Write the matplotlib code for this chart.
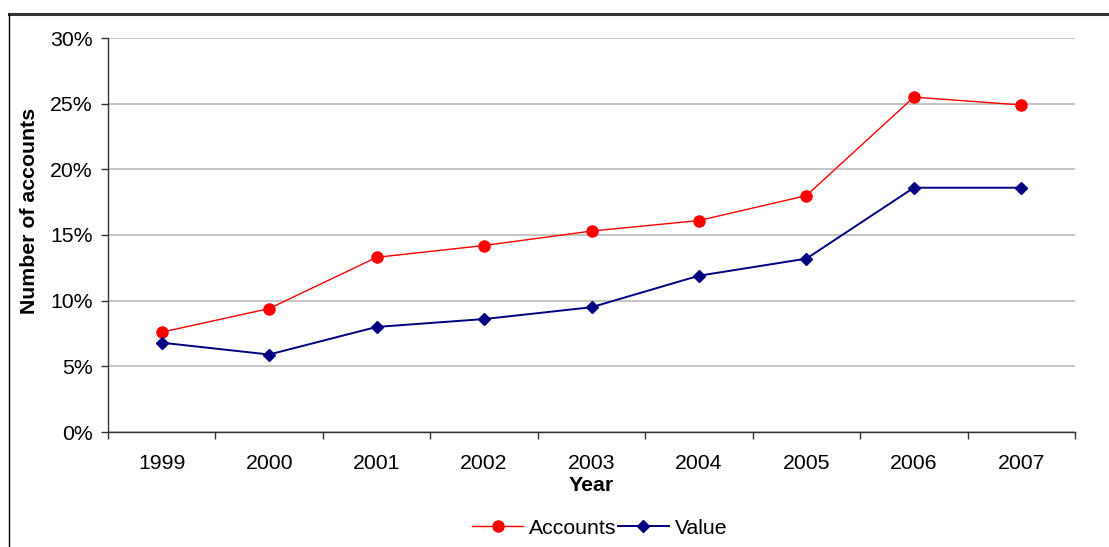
import matplotlib
matplotlib.use("Agg")
import matplotlib.pyplot as plt
from matplotlib.lines import Line2D
from matplotlib.ticker import FixedLocator, PercentFormatter

years = ["1999", "2000", "2001", "2002", "2003", "2004", "2005", "2006", "2007"]
accounts = [7.6, 9.4, 13.3, 14.2, 15.3, 16.1, 18.0, 25.5, 24.9]
value = [6.8, 5.9, 8.0, 8.6, 9.5, 11.9, 13.2, 18.6, 18.6]
y_ticks = [0, 5, 10, 15, 20, 25, 30]

plt.rcParams["font.family"] = ["Liberation Sans", "DejaVu Sans"]

W, H = 1109, 547
fig = plt.figure(figsize=(W / 100, H / 100), dpi=100)
fig.patch.set_facecolor("white")

# outer chart frame (top and left edges visible)
fig.add_artist(Line2D([9 / W, 1.0], [1 - 14 / H, 1 - 14 / H], transform=fig.transFigure,
                      color="#333333", lw=2.2))
fig.add_artist(Line2D([9 / W, 9 / W], [0, 1 - 14 / H], transform=fig.transFigure,
                      color="black", lw=1.0))

ax = fig.add_axes([108 / W, 1 - 432 / H, (1075 - 108) / W, (432 - 38) / H])

x = list(range(len(years)))
ax.plot(x, accounts, color="#FF0000", lw=1.0, marker="o", ms=8,
        markerfacecolor="#FF0000", markeredgecolor="#FF0000", label="Accounts", zorder=3)
ax.plot(x, value, color="#000080", lw=1.4, marker="D", ms=6.2,
        markerfacecolor="#000080", markeredgecolor="#000080", label="Value", zorder=3)

ax.set_xlim(-0.5, len(years) - 0.5)
ax.set_ylim(0, 30)
ax.set_yticks(y_ticks)
ax.yaxis.set_major_formatter(PercentFormatter(decimals=0))
ax.set_xticks(x)
ax.set_xticklabels(years)
ax.xaxis.set_minor_locator(FixedLocator([i - 0.5 for i in range(len(years) + 1)]))
ax.tick_params(axis="x", which="major", length=0, pad=16, labelsize=15.3)
ax.tick_params(axis="x", which="minor", length=5, width=1, color="#333333", direction="out")
ax.tick_params(axis="y", which="major", length=5, width=1, color="#333333", direction="out",
               pad=6, labelsize=15.3)

ax.grid(axis="y", color="#c0c0c0", lw=1.3)
ax.set_axisbelow(True)
for side in ("top", "right"):
    ax.spines[side].set_visible(False)
for side in ("left", "bottom"):
    ax.spines[side].set_color("#333333")
    ax.spines[side].set_linewidth(1.0)

ax.set_ylabel("Number of accounts", fontsize=15.3, fontweight="bold")
ax.yaxis.set_label_coords(-0.071, 0.56)
ax.set_xlabel("Year", fontsize=15.3, fontweight="bold")
ax.xaxis.set_label_coords(0.5, -0.112)

fig.legend(loc="center", bbox_to_anchor=(600 / W, 1 - 528 / H), ncol=2, frameon=False,
           fontsize=15.3, handlelength=2.4, handletextpad=0.3, columnspacing=0.05)

fig.savefig("out.png", dpi=100, facecolor="white")
